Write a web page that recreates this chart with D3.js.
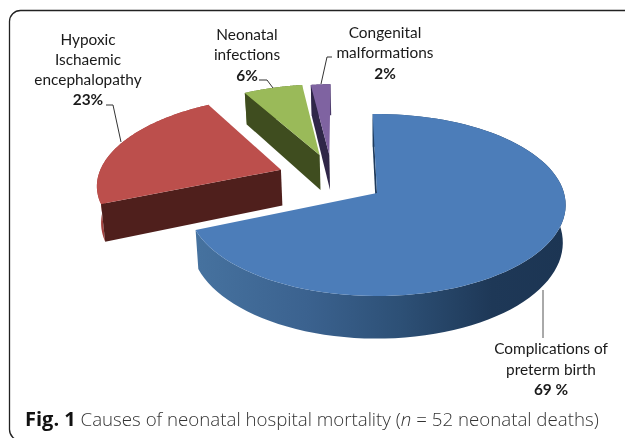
<!DOCTYPE html>
<html>
<head>
<meta charset="utf-8">
<script src="https://cdn.jsdelivr.net/npm/d3@7/dist/d3.min.js"></script>
<style>
html,body{margin:0;padding:0;background:#fff;overflow:hidden}
svg{display:block}
text{font-family:Lato,"Open Sans",sans-serif;fill:#1a1a1a}
</style>
</head>
<body>
<svg id="chart" width="625" height="438"></svg>
<script>
// --- data
const categories = ["Complications of preterm birth", "Hypoxic Ischaemic encephalopathy", "Neonatal infections", "Congenital malformations"];
const percentages = [69, 23, 6, 2];
const percentLabels = ["69 %", "23%", "6%", "2%"];
const captionBold = "Fig. 1";

// --- layout (separate from the data)
const W = 625, H = 438;
const centre = [377, 193], radii = [187, 89.4], tilt = 0.132, depth = 37, depthShrink = 0.985;
const rotationDeg = -1.5;
const explode = [[0, 0], [-0.532, -0.27], [-0.325, -0.45], [-0.27, -0.45]];
const topColors = ["#4c7db9", "#bc4f4c", "#9aba59", "#7f63a1"];
const wallColors = ["#1f3b5c", "#4f1f1c", "#3f4d1f", "#2f2648"];
const rimColors = ["url(#blueRim)", "#a3413e", "#5f7530", "#4a3a68"];
const labelLines = [
  [["Complications of", 551, 354], ["preterm birth", 551, 375], ["69 %", 551, 395, true]],
  [["Hypoxic", 88, 45], ["Ischaemic", 88, 65], ["encephalopathy", 88, 85], ["23%", 88, 105, true]],
  [["Neonatal", 247, 40], ["infections", 247, 60], ["6%", 247, 81, true]],
  [["Congenital", 385, 38], ["malformations", 385, 58], ["2%", 385, 79, true]]
];
const leaders = [
  [[543, 290], [543, 338]],
  [[121, 142], [113, 105], [106, 105]],
  [[273, 88], [267, 80], [259, 80]],
  [[321, 84], [327, 57], [332, 57]]
];

// --- scales & projection
const sx = d3.scaleLinear().domain([-1, 1]).range([centre[0] - radii[0], centre[0] + radii[0]]);
const sy = d3.scaleLinear().domain([-1, 1]).range([centre[1] - radii[1], centre[1] + radii[1]]);
function project(X, Y, down) {
  const s = 1 / (1 - tilt * Y);
  const k = down ? depthShrink : 1;
  return [sx(X * s * k), sy(Y * s) + (down ? depth * s : 0)];
}
const rot = rotationDeg * Math.PI / 180;
const pie = d3.pie().sort(null).startAngle(rot).endAngle(2 * Math.PI + rot);
const arcs = pie(percentages);
const line = d3.line();

const svg = d3.select("#chart");
const grad = svg.append("defs").append("linearGradient").attr("id", "blueRim")
  .attr("gradientUnits", "userSpaceOnUse").attr("x1", 196).attr("x2", 566).attr("y1", 0).attr("y2", 0);
[[0, "#46729f"], [0.3, "#3b628f"], [0.55, "#2d5076"], [0.8, "#1e3857"], [1, "#1c3553"]].forEach(([o, c]) =>
  grad.append("stop").attr("offset", o).attr("stop-color", c));

// frame
svg.append("rect").attr("x", 9.5).attr("y", 10.5).attr("width", 720).attr("height", 430).attr("rx", 11)
  .attr("fill", "none").attr("stroke", "#222").attr("stroke-width", 1.3);

const pieG = svg.append("g").style("filter", "blur(0.4px)");
// paint back to front
d3.range(arcs.length - 1, -1, -1).forEach(i => {
  const a = arcs[i], [ox, oy] = explode[i];
  const pt = t => [ox + Math.sin(t), oy - Math.cos(t)];
  const ts = d3.range(0, 1.0001, 1 / 90).map(f => a.startAngle + f * (a.endAngle - a.startAngle));
  const topArc = ts.map(t => project(...pt(t), false));
  const botArc = ts.map(t => project(...pt(t), true));
  const apexT = project(ox, oy, false), apexB = project(ox, oy, true);
  const wall = [topArc[0], apexT, apexB, botArc[0]];
  // outer rim
  pieG.append("path").attr("d", line(topArc.concat(botArc.slice().reverse())) + "Z").attr("fill", rimColors[i]);
  // radial wall
  pieG.append("path").attr("d", line(wall) + "Z").attr("fill", wallColors[i]);
  // top face
  pieG.append("path").attr("d", line([apexT].concat(topArc)) + "Z").attr("fill", topColors[i]);
});

// leaders
leaders.forEach((l, i) => svg.append("path").attr("d", line(l)).attr("fill", "none")
  .attr("stroke", i === 0 ? "#555" : "#333").attr("stroke-width", 1));

// labels
const labelG = svg.append("g").style("filter", "blur(0.25px)");
labelLines.forEach(ls => ls.forEach(([t, x, y, bold]) => {
  labelG.append("text").attr("x", x).attr("y", y).attr("text-anchor", "middle")
    .attr("font-size", 15.4).attr("font-weight", bold ? 700 : 400).text(t);
}));

// caption
const cap = svg.append("text").attr("x", 25).attr("y", 426).style("font-family", '"Open Sans",sans-serif').attr("font-size", 18.7).style("filter", "blur(0.25px)");
cap.append("tspan").attr("font-weight", 700).attr("font-size", 20).style("fill", "#111").text(captionBold);
cap.append("tspan").attr("font-weight", 300).style("fill", "#333").text(" Causes of neonatal hospital mortality (");
cap.append("tspan").attr("font-weight", 300).attr("font-style", "italic").style("fill", "#333").text("n");
cap.append("tspan").attr("font-weight", 300).style("fill", "#333").text(" = 52 neonatal deaths)");
</script>
</body>
</html>
